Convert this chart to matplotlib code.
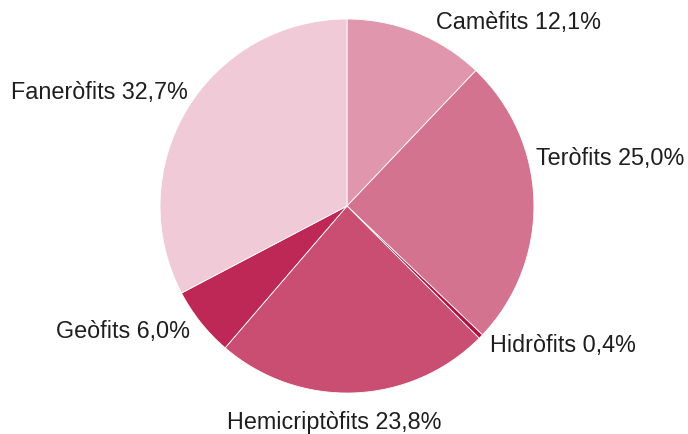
import matplotlib
matplotlib.use("Agg")
import matplotlib.pyplot as plt

plt.rcParams['font.family'] = ['Liberation Sans', 'DejaVu Sans']

# life-form spectrum (percent of species)
forms = ['Camèfits', 'Teròfits', 'Hidròfits', 'Hemicriptòfits', 'Geòfits', 'Faneròfits']
shares = [12.1, 25.0, 0.4, 23.8, 6.0, 32.7]
colors = ['#e097ae', '#d4738f', '#b80d3e', '#c94e72', '#bd2856', '#f0cad7']

# label anchors (pie radius = 1) and alignment
label_xy = [(0.476, 0.989), (1.011, 0.262), (0.765, -0.738),
            (-0.07, -1.15), (-0.84, -0.663), (-0.85, 0.615)]
label_ha = ['left', 'left', 'left', 'center', 'right', 'right']

fig = plt.figure(figsize=(6.88, 4.35), dpi=100)
ax = fig.add_axes([0, 0, 1, 1])

ax.pie(shares, colors=colors, startangle=90, counterclock=False,
       radius=1.0, wedgeprops=dict(edgecolor='white', linewidth=0.6))

for name, val, (x, y), ha in zip(forms, shares, label_xy, label_ha):
    txt = f"{name} {val:.1f}%".replace('.', ',')
    ax.text(x, y, txt, ha=ha, va='center', fontsize=16.8, color='#1e1e1e')

ax.set_aspect('auto')
ax.set_xlim(-1.856, 1.824)
ax.set_ylim(-1.219, 1.107)
ax.axis('off')

fig.savefig('out.png', dpi=100)
